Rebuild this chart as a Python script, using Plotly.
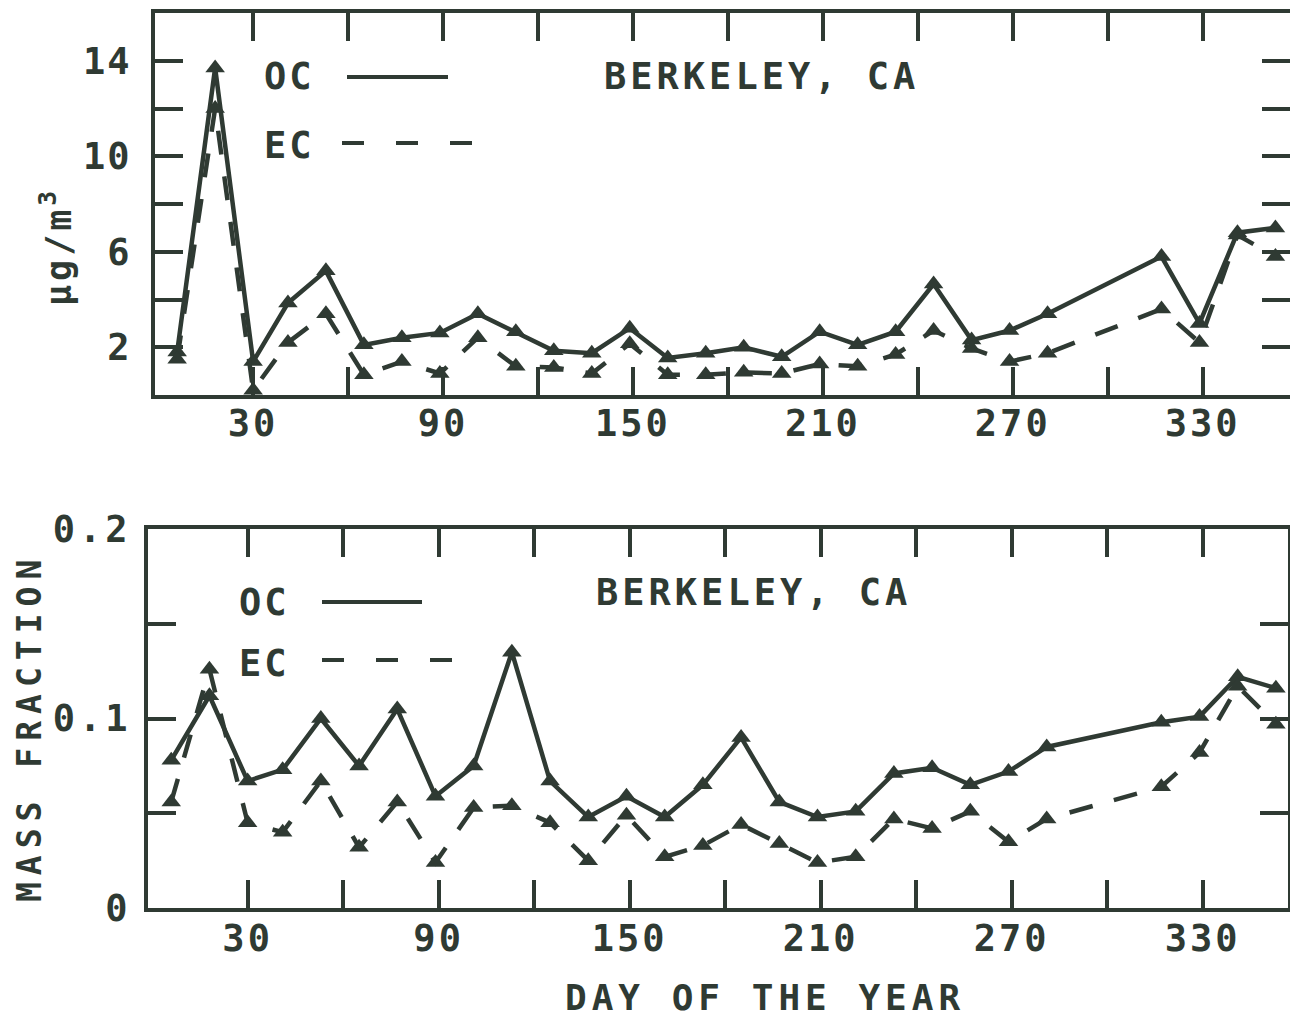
import plotly.graph_objects as go

# ---------------- data ----------------
days = [6, 18, 30, 41, 53, 65, 77, 89, 101, 113, 125, 137, 149, 161,
        173, 185, 197, 209, 221, 233, 245, 257, 269, 281, 317, 329, 341, 353]

oc_conc = [1.8, 13.7, 1.4, 3.85, 5.2, 2.1, 2.4, 2.6, 3.4, 2.65, 1.85, 1.75, 2.8, 1.55,
           1.75, 2.0, 1.6, 2.65, 2.1, 2.65, 4.65, 2.3, 2.7, 3.4, 5.8, 3.0, 6.8, 7.0]
ec_conc = [1.5, 12.0, 0.2, 2.2, 3.4, 0.85, 1.4, 0.9, 2.4, 1.2, 1.15, 0.9, 2.15, 0.85,
           0.85, 0.95, 0.9, 1.3, 1.2, 1.7, 2.7, 1.95, 1.4, 1.75, 3.6, 2.2, 6.7, 5.8]

oc_frac = [0.078, 0.112, 0.067, 0.073, 0.100, 0.075, 0.105, 0.059, 0.075, 0.135, 0.067, 0.048, 0.059, 0.048,
           0.065, 0.090, 0.056, 0.048, 0.051, 0.071, 0.074, 0.065, 0.072, 0.085, 0.098, 0.101, 0.122, 0.116]
ec_frac = [0.056, 0.126, 0.045, 0.040, 0.067, 0.032, 0.056, 0.024, 0.053, 0.054, 0.045, 0.025, 0.049, 0.027,
           0.033, 0.044, 0.034, 0.024, 0.027, 0.047, 0.042, 0.051, 0.035, 0.047, 0.064, 0.082, 0.117, 0.097]

x_ticks = list(range(30, 331, 30))
x_labels = ["30", "", "90", "", "150", "", "210", "", "270", "", "330"]
y1_ticks = [2, 4, 6, 8, 10, 12, 14]
y1_labels = ["2", "", "6", "", "10", "", "14"]
y2_ticks = [0, 0.05, 0.1, 0.15, 0.2]
y2_labels = ["0", "", "0.1", "", "0.2"]

site = "BERKELEY, CA"
x_title = "DAY OF THE YEAR"
y1_title = "μg/m<sup>3</sup>"
y2_title = "MASS FRACTION"

# ---------------- styling ----------------
W, H = 1290, 1018
INK = "#2f3a33"
FONT = "DejaVu Sans Mono"
DASH = "24px,22px"


def X(px):
    return px / W


def Y(py):
    return 1 - py / H


def sp(text, ls):
    if not text:
        return text
    return f'<span style="letter-spacing:{ls}px">{text}</span>'


fig = go.Figure()

line_solid = dict(color=INK, width=4.5)
line_dash = dict(color=INK, width=4.5, dash=DASH)
mk = dict(symbol="triangle-up", size=17, color=INK, line=dict(width=0))

fig.add_trace(go.Scatter(x=days, y=oc_conc, mode="lines+markers", line=line_solid, marker=mk,
                         xaxis="x", yaxis="y", showlegend=False, name="OC"))
fig.add_trace(go.Scatter(x=days, y=ec_conc, mode="lines+markers", line=line_dash, marker=mk,
                         xaxis="x", yaxis="y", showlegend=False, name="EC"))
fig.add_trace(go.Scatter(x=days, y=oc_frac, mode="lines+markers", line=line_solid, marker=mk,
                         xaxis="x2", yaxis="y2", showlegend=False, name="OC"))
fig.add_trace(go.Scatter(x=days, y=ec_frac, mode="lines+markers", line=line_dash, marker=mk,
                         xaxis="x2", yaxis="y2", showlegend=False, name="EC"))

tickfont = dict(family=FONT, size=37, color=INK, weight="bold")
common = dict(showline=True, linewidth=4, linecolor=INK, mirror="allticks",
              ticks="inside", ticklen=28, tickwidth=4, tickcolor=INK, automargin=False,
              showgrid=False, zeroline=False, tickfont=tickfont, fixedrange=True)

fig.update_layout(
    width=W, height=H,
    margin=dict(l=0, r=0, t=0, b=0, autoexpand=False),
    paper_bgcolor="white", plot_bgcolor="white",
    xaxis=dict(domain=[X(155), 1.0], range=[-1, 357.6], anchor="y",
               tickvals=x_ticks, ticktext=[sp(t, 3) for t in x_labels],
               ticklabelstandoff=-7, **common),
    yaxis=dict(domain=[Y(395), Y(13)], range=[0, 16], anchor="x",
               tickvals=y1_ticks, ticktext=[sp(t, 2) for t in y1_labels],
               ticklabelstandoff=12, **common),
    xaxis2=dict(domain=[X(148), X(1288)], range=[-1.3, 356.8], anchor="y2",
                tickvals=x_ticks, ticktext=[sp(t, 3) for t in x_labels],
                ticklabelstandoff=-5, **common),
    yaxis2=dict(domain=[Y(908), Y(529)], range=[0, 0.2], anchor="x2",
                tickvals=y2_ticks, ticktext=[sp(t, 4) for t in y2_labels],
                ticklabelstandoff=5, **common),
)

txt = dict(family=FONT, size=37, color=INK, weight="bold")
ann = []


def label(text, x, y, size=37, ls=4, angle=0):
    f = dict(txt)
    f["size"] = size
    ann.append(dict(text=sp(text, ls), x=X(x), y=Y(y), xref="paper", yref="paper",
                    showarrow=False, font=f, textangle=angle,
                    xanchor="center", yanchor="middle"))


# titles and legend texts
label(site, 761, 77)
label(site, 754, 592)
label("OC", 289, 77, ls=3)
label("EC", 289, 145, ls=3)
label("OC", 264, 602, ls=3)
label("EC", 264, 663, ls=3)
label(x_title, 765, 997, size=36, ls=5)
label(y2_title, 29, 728, size=33, ls=7, angle=-90)
ann.append(dict(text=sp(y1_title, 4), x=X(56), y=Y(247), xref="paper", yref="paper",
                showarrow=False, font=dict(family=FONT, size=35, color=INK, weight="bold"),
                textangle=-90, xanchor="center", yanchor="middle"))
fig.update_layout(annotations=ann)

# legend sample lines
shapes = [
    dict(type="line", xref="paper", yref="paper", x0=X(347), x1=X(448), y0=Y(77), y1=Y(77),
         line=dict(color=INK, width=4)),
    dict(type="line", xref="paper", yref="paper", x0=X(342), x1=X(474), y0=Y(143), y1=Y(143),
         line=dict(color=INK, width=4, dash="22px,32px")),
    dict(type="line", xref="paper", yref="paper", x0=X(322), x1=X(422), y0=Y(602), y1=Y(602),
         line=dict(color=INK, width=4)),
    dict(type="line", xref="paper", yref="paper", x0=X(322), x1=X(452), y0=Y(660), y1=Y(660),
         line=dict(color=INK, width=4, dash="22px,32px")),
]
fig.update_layout(shapes=shapes)

fig.write_html("out.html")
